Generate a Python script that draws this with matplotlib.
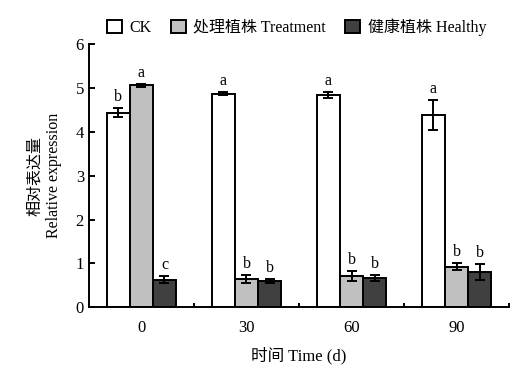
import numpy as np
import matplotlib.pyplot as plt
from matplotlib.patches import Patch

plt.rcParams['font.family'] = ['Liberation Serif', 'Noto Sans CJK SC']

days = ['0', '30', '60', '90']
ck = [4.44, 4.87, 4.84, 4.39]
ck_err = [0.10, 0.03, 0.07, 0.34]
treatment = [5.06, 0.65, 0.71, 0.92]
treatment_err = [0.03, 0.09, 0.11, 0.08]
healthy = [0.63, 0.60, 0.67, 0.81]
healthy_err = [0.07, 0.04, 0.07, 0.18]
ck_sig = ['b', 'a', 'a', 'a']
treatment_sig = ['a', 'b', 'b', 'b']
healthy_sig = ['c', 'b', 'b', 'b']

series = [
    ('CK', ck, ck_err, ck_sig, 'white'),
    ('处理植株 Treatment', treatment, treatment_err, treatment_sig, '#c0c0c0'),
    ('健康植株 Healthy', healthy, healthy_err, healthy_sig, '#404040'),
]

fig = plt.figure(figsize=(5.32, 3.75), dpi=100)
ax = fig.add_axes([0.167, 0.181, 0.790, 0.701])

x = np.arange(len(days))
w = 0.22
for i, (name, vals, errs, sig, color) in enumerate(series):
    pos = x + (i - 1) * w
    ax.bar(pos, vals, w, color=color, edgecolor='black', linewidth=1.4,
           yerr=errs, error_kw=dict(ecolor='black', elinewidth=1.4, capsize=3.5, capthick=1.4),
           label=name, zorder=2)
    for p, v, e, s in zip(pos, vals, errs, sig):
        ax.text(p, v + e + 0.07, s, ha='center', va='bottom', fontsize=11.5)

ax.set_xlim(-0.5, 3.5)
ax.set_ylim(0, 6)
ax.set_xticks(x)
ax.set_xticklabels(days)
ax.set_xticks(x + 0.5, minor=True)
ax.tick_params(axis='x', which='major', length=0, pad=9, labelsize=12)
ax.tick_params(axis='x', which='minor', direction='in', length=3, width=1.4)
ax.tick_params(axis='y', direction='in', length=4, width=1.4, labelsize=12)
ax.set_yticks(range(0, 7))
for side in ['top', 'right']:
    ax.spines[side].set_visible(False)
for side in ['left', 'bottom']:
    ax.spines[side].set_linewidth(1.4)

ax.set_xlabel('时间 Time (d)', fontsize=12, labelpad=8)
ax.set_ylabel('相对表达量\nRelative expression', fontsize=11.5, labelpad=10)

handles = [Patch(facecolor=c, edgecolor='black', linewidth=1.4, label=n) for n, _, _, _, c in series]
fig.legend(handles=handles, loc='upper left', bbox_to_anchor=(0.175, 0.99), ncol=3,
           frameon=False, fontsize=11.5, handlelength=0.9, handleheight=0.9,
           handletextpad=0.5, columnspacing=1.2)

fig.savefig('out.png', dpi=100)
